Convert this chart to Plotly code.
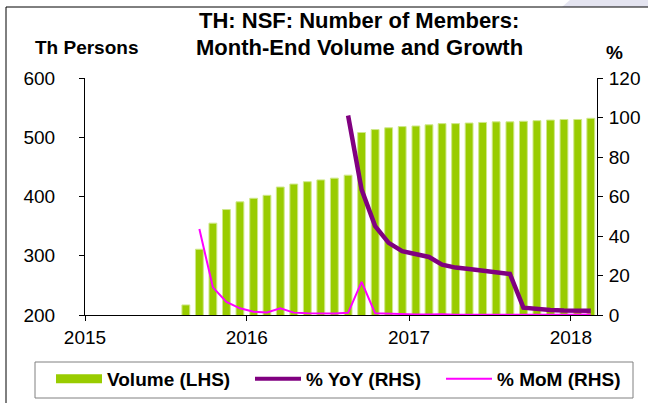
import plotly.graph_objects as go

# Month-end observations (Aug 2015 - Feb 2018)
months = [
    "2015-08", "2015-09", "2015-10", "2015-11", "2015-12",
    "2016-01", "2016-02", "2016-03", "2016-04", "2016-05", "2016-06",
    "2016-07", "2016-08", "2016-09", "2016-10", "2016-11", "2016-12",
    "2017-01", "2017-02", "2017-03", "2017-04", "2017-05", "2017-06",
    "2017-07", "2017-08", "2017-09", "2017-10", "2017-11", "2017-12",
    "2018-01", "2018-02",
]

# Volume, thousand persons (LHS)
volume = [217, 311, 355, 378, 391, 397, 402, 416, 421, 425, 428, 431, 436,
          508, 513, 516, 518, 519, 521, 523, 523, 524, 525, 526, 526,
          527, 528, 529, 530, 530, 532]

# % YoY (RHS), starts Aug 2016
yoy = [None] * 12 + [101, 63.5, 45, 36.5, 32.3, 30.7, 29.4, 25.5, 24.0,
                     23.3, 22.5, 22.0, 20.8, 3.7, 3.0, 2.5, 2.3, 2.1, 2.2]

# % MoM (RHS), starts Sep 2015
mom = [None] + [43.5, 14.0, 6.6, 3.4, 1.6, 1.3, 3.4, 1.2, 0.9, 0.8, 0.7,
                1.1, 16.8, 0.9, 0.6, 0.4, 0.3, 0.3, 0.4, 0.1, 0.2, 0.2,
                0.1, 0.1, 0.2, 0.2, 0.1, 0.1, 0.1, 0.3]

year_ticks = ["2015-01-01", "2016-01-01", "2017-01-01", "2018-01-01"]
year_labels = ["2015", "2016", "2017", "2018"]

GREEN = "#99CC00"
PURPLE = "#800080"
MAGENTA = "#FF00FF"
FONT = "Liberation Sans, Arial, sans-serif"

# plot area in pixels: x 85..597, y 78..315
L, R, T, B = 85, 597, 78, 315
W, H = 648, 403


def px(p):
    # pixel x -> paper x
    return (p - L) / (R - L)


def py(p):
    # pixel y -> paper y
    return (B - p) / (B - T)


fig = go.Figure()

fig.add_trace(go.Bar(
    x=months, y=volume, xperiod="M1", xperiodalignment="middle",
    marker=dict(color=GREEN, line=dict(color="#CFE88A", width=1)),
    name="Volume (LHS)", showlegend=False, yaxis="y",
))
fig.add_trace(go.Scatter(
    x=months, y=yoy, xperiod="M1", xperiodalignment="middle",
    mode="lines", line=dict(color=PURPLE, width=4.5),
    name="% YoY (RHS)", showlegend=False, yaxis="y2",
))
fig.add_trace(go.Scatter(
    x=months, y=mom, xperiod="M1", xperiodalignment="middle",
    mode="lines", line=dict(color=MAGENTA, width=2),
    name="% MoM (RHS)", showlegend=False, yaxis="y2",
))

# legend entries (wide swatches like the original)
for name, color, width, lw in [("Volume (LHS)", GREEN, 9, 138),
                               ("% YoY (RHS)", PURPLE, 4, 130),
                               ("% MoM (RHS)", MAGENTA, 2, 134)]:
    fig.add_trace(go.Scatter(x=[None], y=[None], mode="lines", name=name,
                             line=dict(color=color, width=width),
                             legendwidth=lw, yaxis="y2"))

fig.update_layout(
    width=W, height=H,
    margin=dict(l=L, r=W - R, t=T, b=H - B, pad=0, autoexpand=False),
    paper_bgcolor="white", plot_bgcolor="white",
    font=dict(family=FONT, size=19, color="black"),
    bargap=0.4,
    xaxis=dict(
        type="date", range=["2015-01-01", "2018-03-01"],
        tickvals=year_ticks, ticktext=year_labels,
        ticks="outside", ticklen=5, tickcolor="black",
        showline=True, linecolor="black", linewidth=1,
        showgrid=False, zeroline=False, ticklabelstandoff=0,
    ),
    yaxis=dict(
        range=[200, 600], dtick=100, ticks="outside", ticklen=5,
        tickcolor="black", showline=True, linecolor="black",
        showgrid=False, zeroline=False, ticklabelstandoff=20,
    ),
    yaxis2=dict(
        range=[0, 120], dtick=20, overlaying="y", side="right",
        ticks="outside", ticklen=5, tickcolor="black", showline=True,
        linecolor="black", showgrid=False, zeroline=False,
        ticklabelstandoff=2,
    ),
    legend=dict(
        orientation="h", x=px(51), y=py(360),
        xanchor="left", yanchor="top",
        borderwidth=0, bgcolor="rgba(0,0,0,0)",
        font=dict(family=FONT, size=19, weight="bold"),
        itemwidth=46,
    ),
)

for text, x, y, size in [
        ("<b>TH: NSF: Number of Members:</b>", 359, 20, 22),
        ("<b>Month-End Volume and Growth</b>", 359, 47, 22),
        ("<b>Th Persons</b>", 86, 47, 19),
        ("<b>%</b>", 614, 52, 19)]:
    fig.add_annotation(text=text, showarrow=False, font=dict(size=size),
                       xref="paper", yref="paper", x=px(x), y=py(y),
                       xanchor="center", yanchor="middle")

# faint decoration in the top right corner
fig.add_shape(type="path", xref="paper", yref="paper",
              path=f"M {px(570)},{py(0)} L {px(648)},{py(0)} "
                   f"L {px(648)},{py(7)} L {px(562)},{py(7)} Z",
              fillcolor="#E4E4F0", line=dict(width=0), layer="below")
# outer frame: top and left edges
fig.add_shape(type="line", xref="paper", yref="paper",
              x0=px(6), x1=px(648), y0=py(7), y1=py(7),
              line=dict(color="black", width=1))
fig.add_shape(type="line", xref="paper", yref="paper",
              x0=px(6), x1=px(6), y0=py(7), y1=py(403),
              line=dict(color="black", width=1))
# legend box
fig.add_shape(type="rect", xref="paper", yref="paper",
              x0=px(35), x1=px(633), y0=py(362), y1=py(398),
              line=dict(color="#808080", width=1), fillcolor="white",
              layer="below")

fig.write_html("out.html", config={"displayModeBar": False},
               post_script="document.body.style.margin='0';")
